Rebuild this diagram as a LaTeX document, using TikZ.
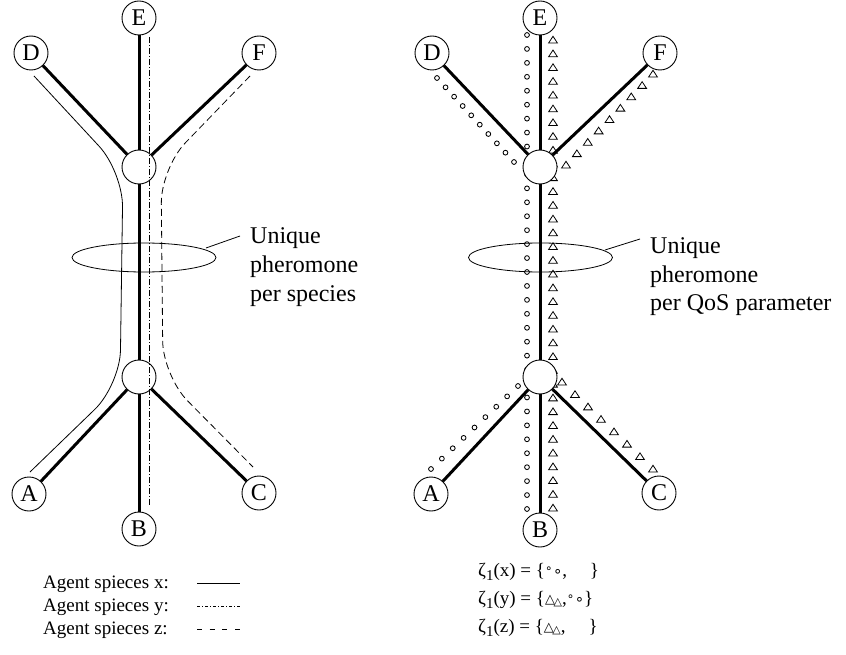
\documentclass[tikz,border=0pt]{standalone}
\usepackage{fontspec}
\setmainfont{Liberation Serif}
\newfontfamily\symfont{DejaVu Sans}
\usetikzlibrary{calc}
\newcommand\zetaone{ζ\raisebox{-4.5pt}{\fontsize{15}{15}\selectfont 1}}
\newcommand\ringpair{\raisebox{3.5pt}{\symfont\fontsize{12}{12}\selectfont ∘}\kern0.5pt{\symfont\fontsize{15}{15}\selectfont ∘}}
\newcommand\tripair{\raisebox{1pt}{\symfont\fontsize{13}{13}\selectfont △}\kern-1.5pt\raisebox{-1.5pt}{\symfont\fontsize{11}{11}\selectfont △}}
\tikzset{
  site/.style={circle,draw,line width=0.9pt,fill=white,minimum size=34pt,inner sep=0pt,
    font=\fontsize{24}{24}\selectfont},
  hub/.style={circle,draw,line width=0.9pt,fill=white,minimum size=34pt,inner sep=0pt},
  trail/.style={line width=3pt},
  xtrace/.style={line width=0.8pt},
  ytrace/.style={line width=0.8pt,dash pattern=on 6pt off 2pt on 1pt off 2pt},
  ztrace/.style={line width=0.8pt,dash pattern=on 7pt off 4pt},
  zone/.style={line width=0.8pt},
  note/.style={anchor=base west,inner sep=0pt,font=\fontsize{24}{29}\selectfont},
  keytext/.style={anchor=base west,inner sep=0pt,font=\fontsize{19}{19}\selectfont},
  formula/.style={anchor=base west,inner sep=0pt,font=\fontsize{19}{19}\selectfont},
  pics/ring/.style={code={\draw[line width=0.85pt] (0,0) circle (2.4pt);}},
  pics/tri/.style={code={\draw[line width=0.8pt,line join=miter] (-4.4,3) -- (4.4,3) -- (0,-3.7) -- cycle;}},
}
\begin{document}
\begin{tikzpicture}[x=1pt,y=-1pt]
\useasboundingbox (0,0) rectangle (846,655);

% ---------------- left network: one trace per agent species ----------------
\node[site] (lD) at (31,53) {D};
\node[site] (lE) at (139,18) {E};
\node[site] (lF) at (259,53) {F};
\node[hub]  (lU) at (139,167) {};
\node[hub]  (lL) at (139,377) {};
\node[site] (lA) at (29,494) {A};
\node[site] (lB) at (139,529) {B};
\node[site] (lC) at (259,493) {C};

\draw[trail] (lD) -- (lU);
\draw[trail] (lE) -- (lU);
\draw[trail] (lF) -- (lU);
\draw[trail] (lU) -- (lL);
\draw[trail] (lL) -- (lA);
\draw[trail] (lL) -- (lB);
\draw[trail] (lL) -- (lC);

% species x: D -> A, species y: E -> B, species z: F -> C
\coordinate (xs) at (34,76);   \coordinate (xe) at (30,472);
\coordinate (ys) at (149,37);  \coordinate (ye) at (149,506);
\coordinate (zs) at (250,76);  \coordinate (ze) at (253,467);
\draw[xtrace,rounded corners=35pt] (xs) -- (123,172) -- (120,385) -- (xe);
\draw[ytrace] (ys) -- (ye);
\draw[ztrace,rounded corners=35pt] (zs) -- (161,168) -- (163,376) -- (ze);

% pheromone callout
\draw[zone] (144,257.5) ellipse (72 and 14.5);
\coordinate (lp) at (240,236);
\draw[zone] (206,248) -- (lp);
\node[note] (lnote) at (250,243.5) {\begin{tabular}[t]{@{}l@{}}Unique\\pheromone\\per species\end{tabular}};

% legend
\node[keytext] (kx) at (43,588) {Agent spieces x:};
\node[keytext] (ky) at (43,611) {Agent spieces y:};
\node[keytext] (kz) at (43,634) {Agent spieces z:};
\draw[xtrace] (197,583) -- (240,583);
\draw[line width=0.7pt,dash pattern=on 3pt off 2pt on 1pt off 2pt] (197,606) -- (240,606);
\draw[line width=0.7pt,dash pattern=on 5pt off 7.7pt] (197,629) -- (240,629);

% ---------------- right network: one pheromone per QoS parameter ----------------
% circle markers (x species, and y species on the left of E-B)
\foreach \i in {0,...,34} \pic at ($(527,35)!\i/34!(527,509)$) {ring};
\foreach \i in {0,...,9}  \pic at ($(437,78)!\i/9!(514,162)$) {ring};
\foreach \i in {0,...,8}  \pic at ($(518,386)!\i/8!(431,469)$) {ring};
% triangle markers (y species on the right of E-B, and z species)
\foreach \i in {0,...,34} \pic at ($(553,40)!\i/34!(553,508)$) {tri};
\foreach \i in {0,...,8}  \pic at ($(653,74)!\i/8!(566,165)$) {tri};
\foreach \i in {0,...,7}  \pic at ($(562,382)!\i/7!(653,469)$) {tri};

\node[site] (rD) at (432,53) {D};
\node[site] (rE) at (540,18) {E};
\node[site] (rF) at (660,53) {F};
\node[hub]  (rU) at (540,167) {};
\node[hub]  (rL) at (540,377) {};
\node[site] (rA) at (431,494) {A};
\node[site] (rB) at (540,530) {B};
\node[site] (rC) at (659,493) {C};

\draw[trail] (rD) -- (rU);
\draw[trail] (rE) -- (rU);
\draw[trail] (rF) -- (rU);
\draw[trail] (rU) -- (rL);
\draw[trail] (rL) -- (rA);
\draw[trail] (rL) -- (rB);
\draw[trail] (rL) -- (rC);

\draw[zone] (540.5,257.5) ellipse (72 and 14.5);
\coordinate (rp) at (640,239);
\draw[zone] (605,250) -- (rp);
\node[note] (rnote) at (650,253) {\begin{tabular}[t]{@{}l@{}}Unique\\pheromone\\per QoS parameter\end{tabular}};

% pheromone sets per species
\node[formula] (fx) at (478,576) {\zetaone(x) = \{\ringpair,\hspace{1.2em}\}};
\node[formula] (fy) at (478,604) {\zetaone(y) = \{\tripair,\ringpair\}};
\node[formula] (fz) at (478,632) {\zetaone(z) = \{\tripair,\hspace{1.2em}\}};
\end{tikzpicture}
\end{document}
